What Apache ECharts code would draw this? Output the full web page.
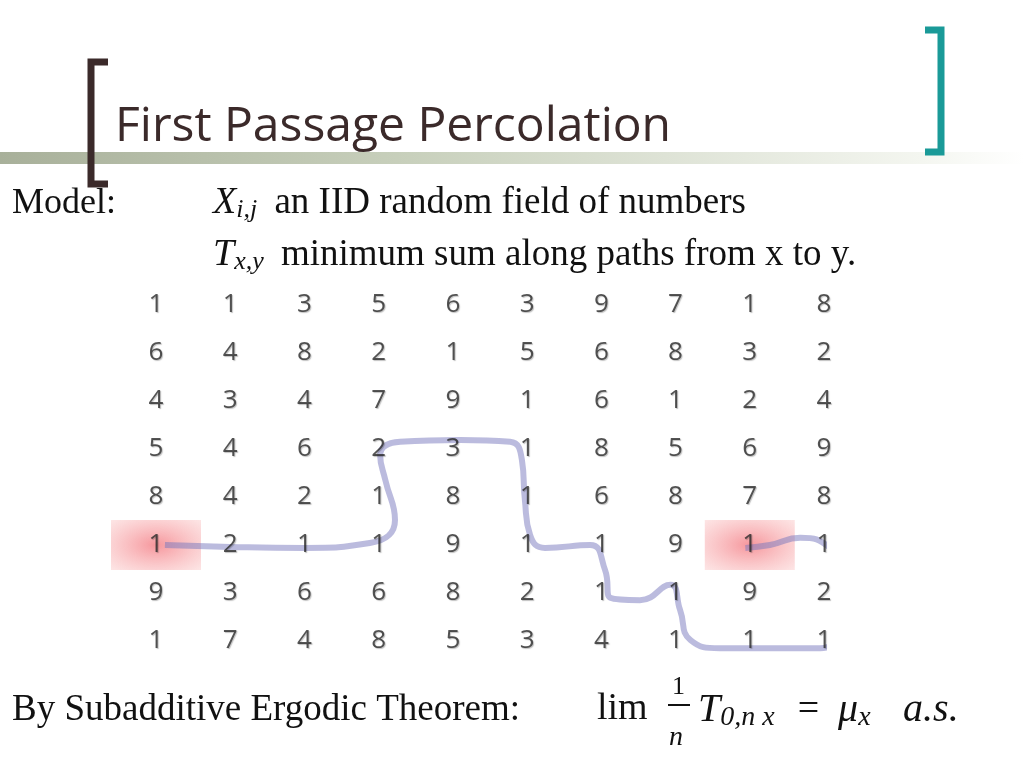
<!DOCTYPE html>
<html><head><meta charset="utf-8">
<script src="https://cdn.jsdelivr.net/npm/echarts@6/dist/echarts.min.js"></script>
<style>html,body{margin:0;background:#fff}#c{width:1024px;height:768px}</style></head>
<body><div id="c"></div>
<script>
const gridRows = [
 [1,1,3,5,6,3,9,7,1,8],
 [6,4,8,2,1,5,6,8,3,2],
 [4,3,4,7,9,1,6,1,2,4],
 [5,4,6,2,3,1,8,5,6,9],
 [8,4,2,1,8,1,6,8,7,8],
 [1,2,1,1,9,1,1,9,1,1],
 [9,3,6,6,8,2,1,1,9,2],
 [1,7,4,8,5,3,4,1,1,1]
];
const highlightCells = [[0,5],[8,5]];
const pathX = [0.12,1.0,2.0,2.88,3.22,3.09,3.02,3.29,4.10,4.77,4.93,4.97,5.04,5.24,5.85,6.05,6.12,6.52,6.93,7.06,7.20,7.60,8.95,9.25,9.29,9.08,8.68,8.27,7.94];
const pathY = [5.0,5.04,5.06,4.96,4.48,3.65,3.13,2.85,2.81,2.85,3.23,4.06,4.79,5.06,5.0,5.52,6.1,6.15,5.83,6.35,6.98,7.15,7.15,6.46,5.63,5.06,4.85,5.0,5.06];

const cells = [];
gridRows.forEach((r,y)=>r.forEach((v,x)=>cells.push({value:[x,y],label:{formatter:String(v)}})));
const serif = '"Liberation Serif","DejaVu Serif",serif';
const chart = echarts.init(document.getElementById('c'));
chart.setOption({
 animation:false,
 grid:{left:156,right:200,top:305,bottom:127},
 xAxis:{type:'value',min:0,max:9,show:false},
 yAxis:{type:'value',min:0,max:7,inverse:true,show:false},
 series:[
  {type:'scatter',symbol:'rect',symbolSize:[90,50],z:1,clip:false,
   itemStyle:{color:{type:'radial',x:0.5,y:0.5,r:0.7,colorStops:[{offset:0,color:'rgba(240,80,90,0.75)'},{offset:1,color:'rgba(250,190,190,0.5)'}]}},
   data:highlightCells},
  {type:'line',smooth:0.5,symbol:'none',z:3,clip:false,
   lineStyle:{color:'rgba(120,120,190,0.5)',width:6},
   data:pathX.map((x,i)=>[x,pathY[i]])},
  {type:'scatter',symbolSize:1,itemStyle:{color:'transparent'},z:4,clip:false,
   label:{show:true,position:'inside',fontSize:26,color:'#2a2a2a',fontFamily:'"Open Sans",sans-serif',
     textShadowColor:'rgba(0,0,0,0.3)',textShadowOffsetX:1,textShadowOffsetY:1,textShadowBlur:1},
   data:cells}
 ],
 graphic:[
  {type:'rect',shape:{x:0,y:152,width:1024,height:12},z:0,
   style:{fill:{type:'linear',x:0,y:0,x2:1,y2:0,colorStops:[{offset:0,color:'#a8b09a'},{offset:0.4,color:'#c8d0bc'},{offset:0.9,color:'#f4f6f0'},{offset:1,color:'#fff'}]}}},
  {type:'polyline',shape:{points:[[108,62],[91,62],[91,184],[108,184]]},style:{stroke:'#3b2a2a',lineWidth:7,fill:null},z:5},
  {type:'polyline',shape:{points:[[925,30],[941,30],[941,152],[925,152]]},style:{stroke:'#1a9a98',lineWidth:7,fill:null},z:5},
  {type:'text',left:115,top:103,z:6,style:{text:'First Passage Percolation',font:'48px "Open Sans",sans-serif',fill:'#3b2a2a'}},
  {type:'text',left:12,top:186,style:{text:'Model:',font:'36px '+serif,fill:'#111'}},
  {type:'text',left:213,top:184,style:{text:'{i|X}{s|i,j} an IID random field of numbers',font:'37px '+serif,fill:'#111',
    rich:{i:{font:'italic 38px '+serif},s:{font:'italic 26px '+serif,padding:[14,8,0,0]}}}},
  {type:'text',left:213,top:236,style:{text:'{i|T}{s|x,y} minimum sum along paths from x to y.',font:'37px '+serif,fill:'#111',
    rich:{i:{font:'italic 38px '+serif},s:{font:'italic 26px '+serif,padding:[14,8,0,0]}}}},
  {type:'text',left:12,top:692,style:{text:'By Subadditive Ergodic Theorem:',font:'37px '+serif,fill:'#111'}},
  {type:'text',left:597,top:690,style:{text:'lim',font:'38px '+serif,fill:'#111'}},
  {type:'text',left:672,top:674,style:{text:'1',font:'26px '+serif,fill:'#111'}},
  {type:'line',shape:{x1:668,y1:705,x2:690,y2:705},style:{stroke:'#111',lineWidth:2}},
  {type:'text',left:669,top:724,style:{text:'n',font:'italic 28px '+serif,fill:'#111'}},
  {type:'text',left:698,top:690,style:{text:'{i|T}{s|0,n x}  =  {i|μ}{s|x}   {i|a.s.}',font:'38px '+serif,fill:'#111',
    rich:{i:{font:'italic 40px '+serif},s:{font:'italic 28px '+serif,padding:[16,4,0,0]}}}}
 ]
});
</script></body></html>
